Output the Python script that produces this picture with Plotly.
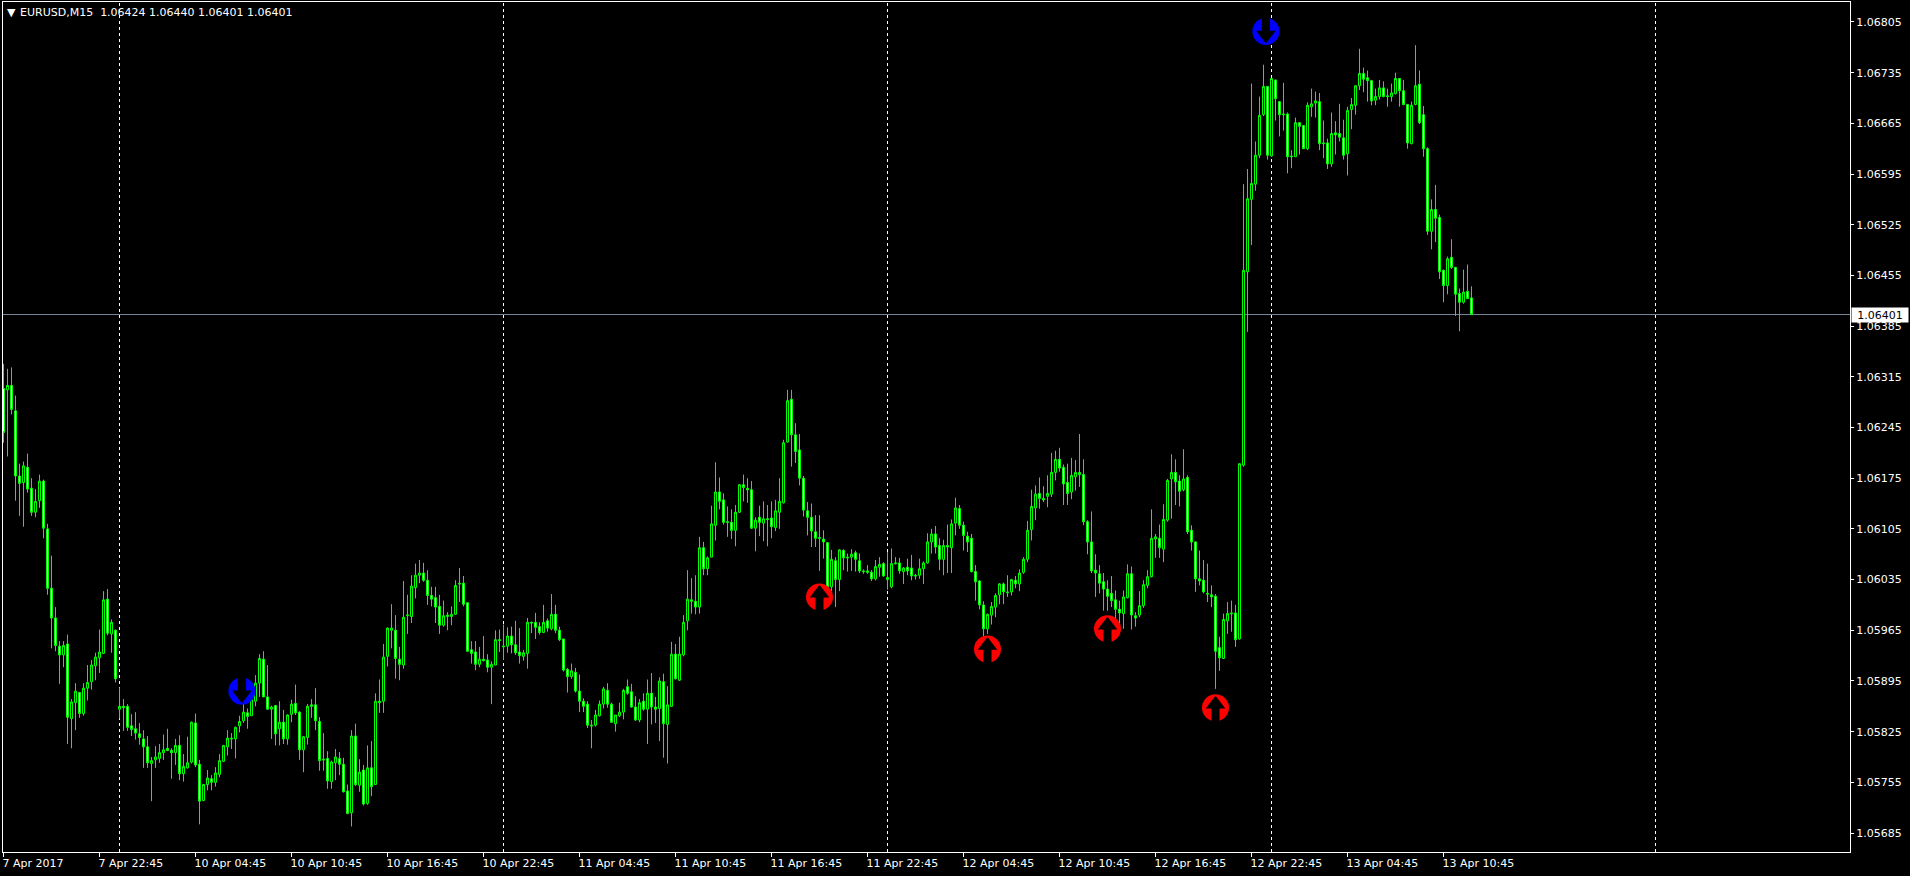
import plotly.graph_objects as go

# Prices are stored in points above 1.00000 (6299 means 1.06299); one list per OHLC field, ten bars per row.
opens_pts = [
6299,6297,6303,6268,6178,6169,6190,6161,6128,6144,
6171,6105,6023,5982,5943,5931,5946,5843,5865,5879,
5850,5885,5894,5916,5927,5933,6008,5960,5965,5856,
5860,5860,5833,5829,5822,5815,5804,5781,5786,5788,
5796,5802,5799,5796,5806,5767,5775,5783,5837,5780,
5730,5752,5760,5755,5766,5784,5804,5816,5815,5833,
5840,5851,5847,5867,5892,5925,5873,5856,5861,5829,
5838,5815,5849,5864,5852,5800,5817,5862,5862,5839,
5787,5788,5756,5782,5788,5780,5743,5713,5819,5751,
5772,5726,5775,5752,5867,5867,5929,5965,5965,5925,
5917,5985,5984,6024,6041,6044,6034,6013,6010,5998,
5972,5984,5984,5987,6030,6030,6003,5938,5935,5918,
5925,5924,5914,5917,5952,5942,5943,5957,5945,5935,
5929,5933,5976,5976,5970,5962,5978,5967,5987,5965,
5953,5911,5901,5907,5881,5867,5863,5834,5834,5847,
5863,5882,5863,5836,5847,5852,5887,5880,5859,5841,
5867,5856,5878,5859,5857,5894,5835,5860,5932,5896,
5931,5978,6007,6005,5997,6079,6050,6066,6110,6156,
6145,6115,6114,6103,6128,6166,6161,6159,6106,6121,
6113,6119,6120,6107,6128,6141,6225,6284,6235,6214,
6175,6130,6121,6101,6093,6091,6086,6025,6061,6035,
6075,6066,6066,6072,6061,6047,6047,6045,6036,6052,
6057,6035,6025,6058,6058,6046,6052,6051,6041,6041,
6050,6058,6087,6098,6082,6063,6082,6079,6113,6133,
6110,6095,6092,6046,6033,6000,5967,5986,5997,6014,
6029,6018,6018,6034,6029,6045,6063,6104,6134,6154,
6147,6150,6153,6183,6201,6190,6169,6156,6177,6183,
6180,6115,6087,6048,6043,6032,6022,6016,6007,5994,
5988,6010,6043,5985,5986,5999,6027,6039,6091,6092,
6077,6117,6174,6183,6171,6159,6176,6103,6087,6036,
6034,6016,6014,6012,5941,5926,5978,5989,5989,5953,
6193,6460,6560,6581,6621,6677,6716,6620,6725,6695,
6678,6678,6620,6619,6666,6662,6630,6688,6693,6695,
6638,6638,6609,6652,6651,6645,6623,6684,6690,6717,
6734,6728,6724,6697,6702,6714,6703,6702,6706,6727,
6710,6691,6637,6691,6719,6677,6630,6516,6546,6535,
6462,6441,6480,6466,6430,6418,6433,6424,
]
highs_pts = [
6333,6326,6328,6289,6195,6198,6209,6175,6160,6180,
6173,6112,6068,5997,5950,5950,5959,5870,5892,5880,
5892,5917,5924,5934,5966,6019,6022,5980,5966,5886,
5870,5863,5849,5852,5837,5827,5819,5790,5805,5808,
5821,5829,5802,5815,5820,5794,5818,5839,5850,5786,
5752,5772,5765,5776,5794,5806,5827,5823,5832,5847,
5864,5857,5876,5903,5932,5936,5917,5861,5862,5867,
5855,5849,5869,5890,5853,5819,5863,5870,5885,5845,
5823,5798,5785,5801,5797,5789,5752,5827,5836,5787,
5779,5806,5812,5878,5897,5946,5969,6001,5986,5942,
6033,6014,6041,6057,6062,6058,6048,6025,6025,6014,
6006,5990,5998,6034,6051,6040,6003,5950,5950,5942,
5957,5932,5922,5965,5966,5973,5969,5970,5978,5968,
5938,5982,5977,5989,5976,6000,5981,6015,6000,5970,
5953,5913,5919,5913,5904,5871,5867,5841,5855,5868,
5887,5892,5865,5848,5865,5884,5897,5891,5874,5870,
5878,5897,5906,5873,5900,5905,5888,5949,5946,5956,
5986,6048,6037,6041,6094,6087,6067,6137,6197,6176,
6154,6136,6132,6138,6166,6180,6175,6171,6121,6137,
6143,6138,6143,6145,6175,6228,6297,6297,6251,6236,
6178,6142,6140,6124,6124,6103,6086,6076,6066,6077,
6077,6071,6077,6075,6071,6049,6055,6048,6062,6066,
6059,6073,6078,6066,6065,6052,6064,6069,6043,6064,
6060,6099,6105,6109,6092,6090,6111,6118,6148,6138,
6115,6101,6098,6055,6034,6005,5988,6004,6016,6030,
6031,6041,6036,6040,6049,6066,6116,6159,6165,6176,
6164,6179,6210,6213,6217,6194,6195,6203,6200,6236,
6201,6117,6129,6070,6055,6044,6034,6040,6020,6006,
6020,6056,6053,5990,6019,6034,6048,6132,6098,6111,
6139,6174,6208,6201,6179,6215,6179,6110,6088,6075,
6062,6057,6027,6015,5956,5988,6004,6006,6000,6195,
6581,6602,6720,6640,6702,6746,6716,6728,6725,6696,
6721,6680,6628,6673,6666,6662,6694,6713,6709,6707,
6669,6644,6680,6668,6692,6670,6688,6700,6717,6768,
6742,6738,6725,6713,6725,6723,6713,6720,6735,6727,
6725,6692,6695,6773,6738,6689,6632,6560,6580,6539,
6463,6481,6505,6467,6437,6463,6470,6440,
]
lows_pts = [
6224,6205,6263,6144,6123,6108,6155,6123,6121,6134,
6092,6014,5940,5936,5891,5914,5808,5802,5827,5844,
5847,5868,5883,5896,5906,5933,5958,5934,5893,5843,
5826,5826,5819,5814,5807,5775,5775,5729,5775,5782,
5786,5798,5760,5779,5758,5756,5774,5781,5776,5697,
5729,5744,5744,5749,5762,5783,5792,5801,5788,5824,
5837,5829,5847,5860,5873,5873,5855,5815,5806,5806,
5808,5807,5838,5848,5786,5769,5807,5844,5827,5771,
5771,5746,5746,5758,5765,5741,5711,5694,5750,5742,
5723,5724,5736,5752,5851,5851,5915,5940,5898,5896,
5912,5960,5975,6009,6030,6032,6000,5998,5975,5960,
5970,5965,5972,5986,6004,5998,5935,5919,5910,5914,
5922,5907,5863,5917,5935,5924,5934,5933,5931,5919,
5923,5912,5961,5953,5959,5961,5963,5965,5961,5950,
5908,5879,5898,5879,5852,5852,5830,5802,5832,5846,
5857,5858,5837,5825,5845,5842,5876,5858,5840,5838,
5854,5808,5835,5837,5812,5789,5781,5859,5897,5895,
5929,5965,5988,5987,5988,6041,6041,6066,6089,6132,
6111,6094,6091,6081,6127,6143,6141,6105,6074,6095,
6088,6081,6092,6102,6105,6140,6224,6191,6196,6165,
6122,6096,6080,6080,6047,6064,6023,6019,5997,6019,
6048,6046,6047,6046,6044,6043,6043,6033,6034,6039,
6039,6021,6023,6056,6043,6029,6041,6034,6035,6036,
6029,6057,6071,6071,6048,6041,6044,6044,6096,6105,
6075,6073,6045,6006,5994,5957,5960,5973,5983,6001,
6001,6011,6013,6023,6019,6043,6059,6089,6117,6133,
6142,6135,6149,6172,6184,6138,6138,6146,6158,6163,
6110,6070,6044,6011,6016,5992,5992,5997,5979,5970,
5967,6009,5966,5970,5983,5996,6023,6038,6065,6065,
6059,6115,6119,6138,6136,6157,6098,6075,6018,6027,
6016,6004,5997,5884,5909,5926,5960,5963,5942,5952,
6191,6377,6497,6572,6617,6675,6615,6619,6669,6647,
6655,6596,6603,6619,6622,6630,6628,6674,6673,6628,
6617,6602,6605,6622,6640,6615,6593,6657,6677,6711,
6708,6695,6690,6690,6698,6701,6688,6695,6705,6688,
6690,6630,6636,6690,6664,6619,6511,6491,6501,6450,
6418,6429,6464,6399,6378,6416,6423,6401,
]
closes_pts = [
6238,6303,6270,6178,6168,6192,6160,6128,6143,6171,
6106,6023,5982,5944,5931,5944,5845,5866,5881,5850,
5885,5893,5917,5928,5935,6007,5961,5976,5898,5860,
5858,5831,5828,5823,5817,5804,5782,5785,5790,5796,
5800,5799,5796,5806,5767,5777,5782,5838,5779,5729,
5752,5761,5755,5768,5785,5806,5816,5815,5831,5839,
5852,5846,5869,5892,5926,5873,5856,5859,5822,5838,
5815,5848,5863,5851,5800,5818,5860,5860,5840,5785,
5786,5757,5783,5790,5780,5742,5712,5819,5752,5769,
5725,5775,5749,5867,5865,5928,5968,5968,5926,5918,
5983,5986,6026,6041,6044,6034,6013,6008,5997,5972,
5985,5986,5987,6027,6029,6001,5936,5933,5918,5925,
5923,5914,5918,5952,5951,5943,5957,5945,5934,5930,
5934,5976,5975,5969,5962,5976,5968,5987,5965,5952,
5910,5901,5909,5881,5867,5860,5834,5833,5848,5863,
5884,5863,5838,5848,5852,5882,5878,5859,5841,5865,
5856,5878,5859,5856,5895,5836,5862,5932,5898,5932,
5976,6008,6005,5997,6079,6050,6065,6112,6156,6143,
6114,6114,6103,6128,6166,6162,6159,6106,6117,6114,
6119,6118,6108,6130,6143,6224,6282,6235,6212,6175,
6131,6121,6102,6092,6092,6087,6025,6063,6035,6076,
6065,6065,6070,6063,6047,6046,6045,6036,6053,6056,
6040,6038,6057,6057,6047,6051,6047,6040,6040,6050,
6058,6087,6098,6080,6063,6082,6080,6112,6134,6110,
6096,6087,6046,6032,6000,5967,5987,5998,6013,6029,
6018,6017,6035,6029,6044,6063,6103,6136,6153,6147,
6145,6154,6183,6201,6189,6167,6154,6179,6183,6180,
6115,6087,6047,6044,6030,6022,6012,6006,5994,5989,
6011,6043,5986,5982,5999,6028,6039,6092,6094,6079,
6118,6172,6183,6170,6157,6174,6101,6087,6036,6033,
6018,6015,6011,5936,5927,5980,5988,5988,5952,6195,
6462,6561,6582,6621,6676,6716,6621,6727,6699,6677,
6677,6619,6619,6666,6661,6630,6690,6692,6696,6637,
6637,6609,6651,6649,6646,6621,6683,6691,6717,6734,
6726,6724,6696,6702,6714,6702,6702,6707,6727,6710,
6691,6638,6690,6717,6666,6630,6516,6546,6534,6460,
6441,6478,6466,6429,6418,6432,6423,6401,
]

def to_price(points):
    return [round(1 + p / 100000, 5) for p in points]

opens, highs, lows, closes = map(to_price, (opens_pts, highs_pts, lows_pts, closes_pts))
bars = list(range(len(opens)))

time_labels = ["7 Apr 2017", "7 Apr 22:45", "10 Apr 04:45", "10 Apr 10:45", "10 Apr 16:45",
               "10 Apr 22:45", "11 Apr 04:45", "11 Apr 10:45", "11 Apr 16:45", "11 Apr 22:45",
               "12 Apr 04:45", "12 Apr 10:45", "12 Apr 16:45", "12 Apr 22:45", "13 Apr 04:45",
               "13 Apr 10:45"]
time_ticks = [24 * k for k in range(len(time_labels))]
price_labels = ["1.05685", "1.05755", "1.05825", "1.05895", "1.05965", "1.06035", "1.06105",
                "1.06175", "1.06245", "1.06315", "1.06385", "1.06455", "1.06525", "1.06595",
                "1.06665", "1.06735", "1.06805"]
price_ticks = [float(s) for s in price_labels]
day_breaks = [29, 125, 221, 317, 413]
last_price = 1.06401

buy_bars = [204, 246, 276, 303]
buy_prices = [1.06011, 1.05939, 1.05967, 1.05858]
sell_bars = [59.6, 315.6]
sell_prices = [1.05881, 1.06792]

GREEN = "#00ff00"
FONT = "DejaVu Sans"
HEAD_SHIFT = 0.00005
SHAFT_SHIFT = 0.00008

fig = go.Figure()
fig.add_trace(go.Candlestick(
    x=bars, open=opens, high=highs, low=lows, close=closes,
    increasing=dict(line=dict(color=GREEN, width=1), fillcolor="#000000"),
    decreasing=dict(line=dict(color=GREEN, width=1), fillcolor="#ffffff"),
    whiskerwidth=0, showlegend=False, hoverinfo="skip",
))

def signal(xs, ys, color, direction):
    fig.add_trace(go.Scatter(x=xs, y=ys, mode="markers", showlegend=False, hoverinfo="skip",
                             marker=dict(symbol="circle", size=27, color=color, line=dict(width=0))))
    head = "triangle-up" if direction > 0 else "triangle-down"
    fig.add_trace(go.Scatter(x=xs, y=[p + direction * HEAD_SHIFT for p in ys], mode="markers",
                             showlegend=False, hoverinfo="skip",
                             marker=dict(symbol=head, size=17, color="#000000", line=dict(width=0))))
    fig.add_trace(go.Scatter(x=xs, y=[p - direction * SHAFT_SHIFT for p in ys], mode="markers",
                             showlegend=False, hoverinfo="skip",
                             marker=dict(symbol="line-ns", size=15, line=dict(width=8, color="#000000"))))

signal(buy_bars, buy_prices, "#ff0000", 1)
signal(sell_bars, sell_prices, "#0000ff", -1)

shapes = [dict(type="line", xref="x", yref="paper", x0=b, x1=b, y0=0, y1=1, layer="below",
               line=dict(color="#ffffff", width=1, dash="3px,3px")) for b in day_breaks]
shapes.append(dict(type="line", xref="paper", yref="y", x0=0, x1=1, y0=last_price, y1=last_price,
                   layer="below", line=dict(color="#778899", width=1)))

annotations = [
    dict(xref="paper", yref="paper", x=0, y=1, xanchor="left", yanchor="middle", xshift=15, yshift=-10,
         showarrow=False, align="left", text="EURUSD,M15  1.06424 1.06440 1.06401 1.06401",
         font=dict(family=FONT, size=11, color="#ffffff")),
    dict(xref="paper", yref="paper", x=0, y=1, xanchor="left", yanchor="middle", xshift=2, yshift=-10,
         showarrow=False, text="▼", font=dict(family=FONT, size=11, color="#ffffff")),
    dict(xref="paper", yref="y", x=1, y=last_price, xanchor="left", yanchor="middle", xshift=1,
         showarrow=False, text="1.06401", bgcolor="#ffffff", borderpad=0, width=56, height=14,
         align="center", font=dict(family=FONT, size=11, color="#000000")),
]

fig.update_layout(
    width=1910, height=876, autosize=False,
    paper_bgcolor="#000000", plot_bgcolor="#000000",
    margin=dict(l=3, r=60, t=2, b=24),
    boxgap=0.5, boxgroupgap=0,
    font=dict(family=FONT, size=11, color="#ffffff"),
    showlegend=False, shapes=shapes, annotations=annotations,
    xaxis=dict(type="linear", range=[-0.125, 461.625], rangeslider=dict(visible=False),
               tickmode="array", tickvals=time_ticks, ticktext=time_labels,
               ticks="outside", ticklen=4, tickcolor="#ffffff", tickwidth=1,
               ticklabelposition="outside right", ticklabelshift=-2, ticklabelstandoff=1, tickangle=0,
               showgrid=False, zeroline=False, showline=True, linecolor="#ffffff", linewidth=1, mirror=True,
               tickfont=dict(family=FONT, size=11, color="#ffffff")),
    yaxis=dict(range=[1.056588, 1.068326], side="right",
               tickmode="array", tickvals=price_ticks, ticktext=price_labels,
               ticks="outside", ticklen=3, tickcolor="#ffffff", tickwidth=1,
               showgrid=False, zeroline=False, showline=True, linecolor="#ffffff", linewidth=1, mirror=True,
               tickfont=dict(family=FONT, size=11, color="#ffffff")),
)

fig.write_html("out.html", config={"displayModeBar": False},
               post_script="document.body.style.margin='0';document.body.style.overflow='hidden';")
